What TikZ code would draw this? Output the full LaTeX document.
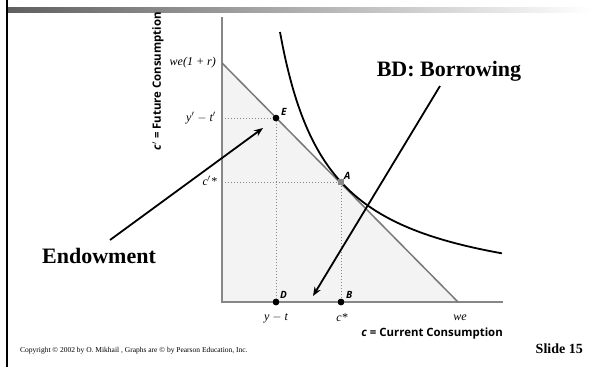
\documentclass[tikz,border=0pt]{standalone}
\usepackage{fontspec}
\setmainfont{Liberation Serif}
\newfontfamily\axisfont{Open Sans}
\usetikzlibrary{arrows.meta}
\definecolor{axisgray}{RGB}{135,135,135}
\definecolor{shadegray}{RGB}{243,243,243}
\definecolor{bargray}{RGB}{95,95,95}
\begin{document}
\begin{tikzpicture}[x=1pt,y=-1pt,
  axis/.style={draw=axisgray,line width=1.6pt},
  budget/.style={draw=axisgray!90!black,line width=1.5pt},
  guide/.style={draw=axisgray,dotted,line width=1pt},
  callout/.style={draw=black,line width=1.8pt,-{Stealth[length=9pt,width=7pt]}},
  bigtext/.style={font=\bfseries\fontsize{22}{24}\selectfont},
  dotpt/.style={circle,fill=black,inner sep=0pt,minimum size=6.5pt},
  sqpt/.style={rectangle,fill=axisgray,inner sep=0pt,minimum size=6pt},
  ptlabel/.style={font=\axisfont\bfseries\itshape\fontsize{10}{11}\selectfont,inner sep=1pt},
  ticklabel/.style={font=\itshape\fontsize{12}{13}\selectfont,inner sep=1pt},
  axlabel/.style={font=\axisfont\bfseries\fontsize{11.4}{13}\selectfont,inner sep=0pt}
]
\useasboundingbox (0,0) rectangle (592,367);
\fill[white] (0,0) rectangle (592,367);
% top bar and left rule
\shade[left color=bargray,right color=white] (7,7) rectangle (592,12.5);
\draw[line width=2.5pt] (7,0) -- (7,367);
% graph coordinates
\coordinate (O) at (222,302);
\coordinate (ytop) at (222,17);
\coordinate (xend) at (503,302);
\coordinate (I) at (222,63);
\coordinate (W) at (458,302);
\coordinate (Eh) at (222,118);
\coordinate (Ah) at (222,182);
% shaded budget set
\fill[shadegray] (I) -- (O) -- (W) -- cycle;
% dotted guides
\node[dotpt] (E) at (276,118) {};
\node[dotpt] (D) at (276,302) {};
\node[dotpt] (B) at (341,302) {};
\node[sqpt] (A) at (341,182) {};
\draw[guide] (Eh) -- (E.center) -- (D.center);
\draw[guide] (Ah) -- (A.center) -- (B.center);
% axes
\draw[axis] (ytop) -- (O) -- (xend);
% budget line
\draw[budget] (I) -- (W);
% indifference curve
\draw[line width=1.8pt] plot[domain=280:502,samples=80,smooth] (\x,{302-13176/(\x-231.2)});
% redraw points on top
\node[dotpt] at (E) {};
\node[dotpt] at (D) {};
\node[dotpt] at (B) {};
\node[sqpt] at (A) {};
% point labels
\node[ptlabel,anchor=south west] at (280,117) {E};
\node[ptlabel,anchor=south west] at (343,181) {A};
\node[ptlabel,anchor=south west] at (279,300) {D};
\node[ptlabel,anchor=south west] at (345,300) {B};
% tick labels
\node[ticklabel,anchor=east] (t1) at (217,63) {we(1 + r)};
\node[ticklabel,anchor=east] (t2) at (217,118) {y$'$ $-$ t$'$};
\node[ticklabel,anchor=east] (t3) at (218,181) {c$'$*};
\node[ticklabel] (t4) at (276,318) {y $-$ t};
\node[ticklabel] (t5) at (342,318) {c*};
\node[ticklabel] (t6) at (460,318) {we};
% axis labels
\node[axlabel,anchor=east] (xl) at (503,334) {\itshape c\upshape\ = Current Consumption};
\node[axlabel,rotate=90,anchor=east] (yl) at (158,12) {\itshape c$'$\upshape\ = Future Consumption};
% callouts
\node[bigtext] (bd) at (449,71) {BD: Borrowing};
\node[bigtext] (endow) at (99,256) {Endowment};
\coordinate (bdtail) at (440,86);
\coordinate (bdtip) at (313,296);
\coordinate (entail) at (110,240);
\coordinate (entip) at (263,128);
\draw[callout] (bdtail) -- (bdtip);
\draw[callout] (entail) -- (entip);
% footer
\node[font=\fontsize{7.5}{9}\selectfont,anchor=west,inner sep=0pt] (copy) at (20,351) {Copyright \textcopyright{} 2002 by O. Mikhail , Graphs are \textcopyright{} by Pearson Education, Inc.};
\node[font=\bfseries\fontsize{14}{16}\selectfont,anchor=east,inner sep=0pt] (slide) at (583,349) {Slide 15};
\end{tikzpicture}
\end{document}
